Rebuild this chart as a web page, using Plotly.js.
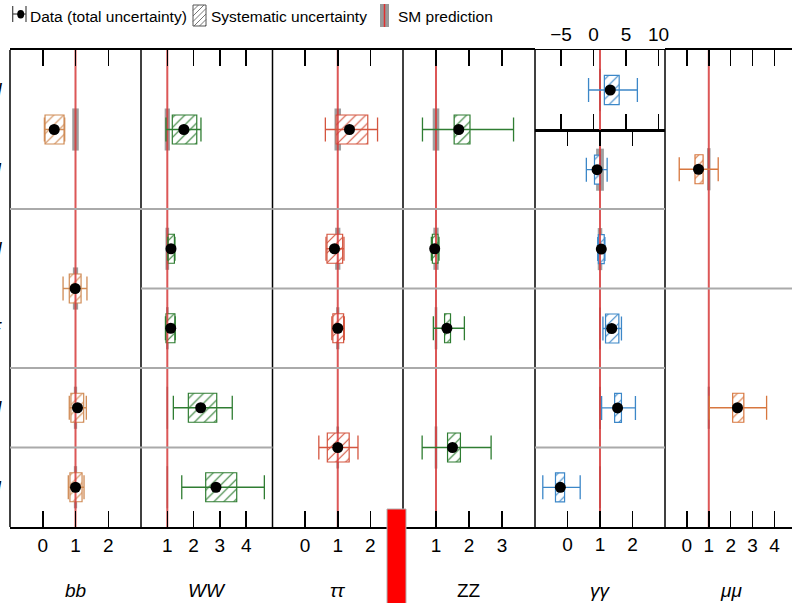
<!DOCTYPE html>
<html><head><meta charset="utf-8">
<script src="https://cdn.plot.ly/plotly-3.0.1.min.js"></script>
<style>html,body{margin:0;padding:0;background:#fff;overflow:hidden}#chart{width:792px;height:603px}</style>
</head><body><div id="chart"></div>
<script>
// ---------------- data ----------------
const rowLabels = ["tH", "ttH", "ggH", "VBF", "WH", "ZH"];
const channelNames = ["bb", "WW", "ττ", "ZZ", "γγ", "μμ"];
const channelTitles = ["<i>bb</i>", "<i>WW</i>", "<i>ττ</i>", "ZZ", "<i>γγ</i>", "<i>μμ</i>"];
const channelColors = ["#d08b55", "#2f7d32", "#d4553f", "#2f7d32", "#3c87c8", "#d7773f"];
const smPrediction = 1;

const bbBlocks = [["tH","ttH"], ["ggH","VBF"], ["WH"], ["ZH"]];
const bbMu     = [0.35, 0.99, 1.06, 1.00];
const bbTotLo  = [0.05, 0.62, 0.81, 0.78];
const bbTotHi  = [0.67, 1.35, 1.33, 1.26];
const bbSysLo  = [0.07, 0.81, 0.86, 0.83];
const bbSysHi  = [0.65, 1.17, 1.25, 1.20];
const bbSmUnc  = [0.10, 0.08, 0.05, 0.05];

const wwBlocks = [["tH","ttH"], ["ggH"], ["VBF"], ["WH"], ["ZH"]];
const wwMu     = [1.63, 1.14, 1.13, 2.27, 2.85];
const wwTotLo  = [0.95, 1.02, 0.93, 1.23, 1.55];
const wwTotHi  = [2.28, 1.29, 1.30, 3.47, 4.69];
const wwSysLo  = [1.19, 1.03, 0.95, 1.80, 2.46];
const wwSysHi  = [2.12, 1.27, 1.29, 2.88, 3.64];
const wwSmUnc  = [0.10, 0.07, 0.05, 0.03, 0.03];

const ttBlocks = [["tH","ttH"], ["ggH"], ["VBF"], ["WH","ZH"]];
const ttMu     = [1.36, 0.90, 1.00, 1.00];
const ttTotLo  = [0.62, 0.64, 0.82, 0.42];
const ttTotHi  = [2.22, 1.19, 1.20, 1.62];
const ttSysLo  = [0.95, 0.67, 0.85, 0.68];
const ttSysHi  = [1.92, 1.15, 1.18, 1.35];
const ttSmUnc  = [0.10, 0.08, 0.05, 0.04];

const zzBlocks = [["tH","ttH"], ["ggH"], ["VBF"], ["WH","ZH"]];
const zzMu     = [1.69, 0.96, 1.33, 1.50];
const zzTotLo  = [0.59, 0.86, 0.92, 0.58];
const zzTotHi  = [3.35, 1.09, 1.86, 2.67];
const zzSysLo  = [1.55, 0.89, 1.26, 1.35];
const zzSysHi  = [2.03, 1.06, 1.44, 1.74];
const zzSmUnc  = [0.10, 0.08, 0.04, 0.04];

const ggBlocks = [["tH"], ["ttH"], ["ggH"], ["VBF"], ["WH"], ["ZH"]];
const ggMu     = [2.58, 0.91, 1.04, 1.36, 1.54, -0.22];
const ggTotLo  = [-0.76, 0.58, 0.93, 1.09, 1.05, -0.76];
const ggTotHi  = [6.75, 1.22, 1.15, 1.66, 2.09, 0.39];
const ggSysLo  = [1.67, 0.83, 0.95, 1.17, 1.45, -0.37];
const ggSysHi  = [3.95, 1.01, 1.13, 1.58, 1.66, -0.09];
const ggSmUnc  = [0.15, 0.12, 0.07, 0.03, 0.03, 0.03];

const mmBlocks = [["tH","ttH","ggH"], ["VBF","WH","ZH"]];
const mmMu     = [0.53, 2.31];
const mmTotLo  = [-0.35, 1.02];
const mmTotHi  = [1.43, 3.64];
const mmSysLo  = [0.37, 2.09];
const mmSysHi  = [0.74, 2.60];
const mmSmUnc  = [0.08, 0.05];

const bbTicks = [0, 1, 2];
const wwTicks = [1, 2, 3, 4];
const ttTicks = [0, 1, 2];
const zzTicks = [1, 2, 3];
const ggTicks = [0, 1, 2];
const ggTopTicks = [-5, 0, 5, 10];
const mmTicks = [0, 1, 2, 3, 4];

const legendLabels = ["Data (total uncertainty)", "Systematic uncertainty", "SM prediction"];

// ---------------- layout helpers ----------------
const W = 792, H = 603, ML = 10, MR = 0, MT = 50, MB = 76;
const PW = W - ML - MR, PH = H - MT - MB;
const px2x = X => (X - ML) / PW;
const px2y = Y => (H - MB - Y) / PH;
const FONT = "'Liberation Sans', Arial, Helvetica, sans-serif";
const colEdges = [10, 141, 272.5, 403, 535, 665, 792];
const ggSplitPx = 130;

const channels = [
  {blocks: bbBlocks, mu: bbMu, lo: bbTotLo, hi: bbTotHi, slo: bbSysLo, shi: bbSysHi, sm: bbSmUnc},
  {blocks: wwBlocks, mu: wwMu, lo: wwTotLo, hi: wwTotHi, slo: wwSysLo, shi: wwSysHi, sm: wwSmUnc},
  {blocks: ttBlocks, mu: ttMu, lo: ttTotLo, hi: ttTotHi, slo: ttSysLo, shi: ttSysHi, sm: ttSmUnc},
  {blocks: zzBlocks, mu: zzMu, lo: zzTotLo, hi: zzTotHi, slo: zzSysLo, shi: zzSysHi, sm: zzSmUnc},
  {blocks: ggBlocks, mu: ggMu, lo: ggTotLo, hi: ggTotHi, slo: ggSysLo, shi: ggSysHi, sm: ggSmUnc},
  {blocks: mmBlocks, mu: mmMu, lo: mmTotLo, hi: mmTotHi, slo: mmSysLo, shi: mmSysHi, sm: mmSmUnc}
];

const NR = rowLabels.length;
const rIdx = r => rowLabels.indexOf(r);
const blockCenter = b => NR - (rIdx(b[0]) + rIdx(b[b.length - 1]) + 1) / 2;
const mainX = ["x", "x2", "x3", "x4", "x5", "x7"];
function axesFor(c, block) {
  if (c === 4) return block.includes("tH") ? {x: "x6", y: "y3"} : {x: "x5", y: "y2"};
  return {x: mainX[c], y: "y"};
}

// ---------------- traces ----------------
const smBars = [], sysBoxes = [], smLines = [], points = [];
channels.forEach((ch, c) => {
  const col = channelColors[c];
  ch.blocks.forEach((b, k) => {
    const ax = axesFor(c, b);
    const yc = blockCenter(b);
    smBars.push({type: "bar", orientation: "h", xaxis: ax.x, yaxis: ax.y,
      y: [yc], x: [2 * ch.sm[k]], base: [smPrediction - ch.sm[k]], width: 0.53,
      marker: {color: "rgba(135,135,135,0.8)", line: {width: 0}}, hoverinfo: "skip", showlegend: false});
    sysBoxes.push({type: "bar", orientation: "h", xaxis: ax.x, yaxis: ax.y,
      y: [yc], x: [ch.shi[k] - ch.slo[k]], base: [ch.slo[k]], width: 0.365,
      marker: {color: "white", line: {color: col, width: 1.2},
        pattern: {shape: "/", fgcolor: col, bgcolor: "white", size: 7, solidity: 0.16, fillmode: "replace"}},
      hoverinfo: "skip", showlegend: false});
    points.push({type: "scatter", mode: "markers", xaxis: ax.x, yaxis: ax.y,
      x: [ch.mu[k]], y: [yc],
      error_x: {type: "data", symmetric: false, array: [ch.hi[k] - ch.mu[k]], arrayminus: [ch.mu[k] - ch.lo[k]],
        color: col, thickness: 1.3, width: 12},
      marker: {color: "black", size: 11}, hoverinfo: "skip", showlegend: false, cliponaxis: false});
  });
});
[["x", "y", 0, 6], ["x2", "y", 0, 6], ["x3", "y", 0, 6], ["x4", "y", 0, 6], ["x5", "y2", 0, 5], ["x6", "y3", 5, 6], ["x7", "y", 0, 6]]
  .forEach(([xa, ya, y0, y1]) => smLines.push({type: "scatter", mode: "lines", xaxis: xa, yaxis: ya,
    x: [smPrediction, smPrediction], y: [y0, y1], line: {color: "rgba(214,58,58,0.85)", width: 2},
    hoverinfo: "skip", showlegend: false}));

const data = [...smBars, ...sysBoxes, ...smLines, ...points];

// ---------------- axes ----------------
function xAxis(i0, i1, range, ticks, anchor, extra) {
  return Object.assign({
    domain: [px2x(colEdges[i0]), px2x(colEdges[i1])], range: range, anchor: anchor,
    showline: true, linecolor: "black", linewidth: 2, mirror: "ticks",
    ticks: "inside", ticklen: 16, tickwidth: 1.5, tickcolor: "black",
    tickmode: "array", tickvals: ticks, ticktext: ticks.map(v => v < 0 ? "\u2212" + Math.abs(v) : String(v)),
    tickfont: {family: FONT, size: 19, color: "black"},
    showgrid: false, zeroline: false, fixedrange: true
  }, extra || {});
}

const layout = {
  width: W, height: H, margin: {l: ML, r: MR, t: MT, b: MB, pad: 0},
  paper_bgcolor: "white", plot_bgcolor: "white", showlegend: false, barmode: "overlay",
  font: {family: FONT, color: "black"},
  xaxis:  xAxis(0, 1, [-1, 3], bbTicks, "y"),
  xaxis2: xAxis(1, 2, [0, 5], wwTicks, "y"),
  xaxis3: xAxis(2, 3, [-1, 3], ttTicks, "y"),
  xaxis4: xAxis(3, 4, [0, 4], zzTicks, "y"),
  xaxis5: xAxis(4, 5, [-1, 3], ggTicks, "y2", {linewidth: 1.5}),
  xaxis6: xAxis(4, 5, [-9, 11], ggTopTicks, "y3", {side: "top", linewidth: 1.5}),
  xaxis7: xAxis(5, 6, [-1, 4.8], mmTicks, "y"),
  yaxis:  {domain: [0, 1], range: [0, NR], visible: false, fixedrange: true, anchor: "x"},
  yaxis2: {domain: [0, px2y(ggSplitPx)], range: [0, NR - 1], visible: false, fixedrange: true, anchor: "x5"},
  yaxis3: {domain: [px2y(ggSplitPx), 1], range: [NR - 1, NR], visible: false, fixedrange: true, anchor: "x6"},
  shapes: [], annotations: []
};

// vertical column separators
colEdges.slice(0, 6).forEach(X => layout.shapes.push({type: "line", xref: "paper", yref: "paper",
  x0: px2x(X), x1: px2x(X), y0: 0, y1: 1, line: {color: "black", width: 1.5}}));

// horizontal block separators
channels.forEach((ch, c) => {
  ch.blocks.slice(1).forEach(b => {
    const yb = NR - rIdx(b[0]);
    if (c === 4 && yb === NR - 1) return; // drawn by axes
    const xr = (c === 4 ? "x5" : mainX[c]) + " domain";
    layout.shapes.push({type: "line", xref: xr, yref: "y", x0: 0, x1: 1, y0: yb, y1: yb,
      line: {color: "#aaaaaa", width: 2}});
  });
});

// channel titles
channelTitles.forEach((t, c) => layout.annotations.push({xref: "paper", yref: "paper",
  x: px2x((colEdges[c] + (c === 5 ? 797 : colEdges[c + 1])) / 2), y: px2y(590),
  text: t, showarrow: false, xanchor: "center", yanchor: "middle",
  font: {family: FONT, size: 19, color: "black"}}));

// row labels (cut off at left edge, as in the reference)
rowLabels.forEach((r, i) => layout.annotations.push({xref: "paper", yref: "y",
  x: px2x(4), y: NR - i - 0.5, text: "<i>" + r + "</i>", showarrow: false,
  xanchor: "right", yanchor: "middle", font: {family: FONT, size: 19, color: "black"}}));

// legend
const legY = 16;
[[28, legendLabels[0]], [209, legendLabels[1]], [396, legendLabels[2]]].forEach(([X, t]) =>
  layout.annotations.push({xref: "paper", yref: "paper", x: px2x(X), y: px2y(legY), text: t,
    showarrow: false, xanchor: "left", yanchor: "middle", font: {family: FONT, size: 15.5, color: "black"}}));
const L = (x0, y0, x1, y1, color, w) => layout.shapes.push({type: "line", xref: "paper", yref: "paper",
  x0: px2x(x0), y0: px2y(y0), x1: px2x(x1), y1: px2y(y1), line: {color: color, width: w}});
// data icon
L(12.7, 14, 26, 14, "#444", 1.2); L(12.7, 6, 12.7, 22, "#444", 1.2); L(26, 6, 26, 22, "#444", 1.2);
layout.shapes.push({type: "circle", xref: "paper", yref: "paper", x0: px2x(17.2), x1: px2x(24.2),
  y0: px2y(10), y1: px2y(18.5), fillcolor: "black", line: {width: 0}});
// hatched icon
(function () {
  const x0 = 193, x1 = 206, y0 = 5, y1 = 26, step = 5.5;
  let p = "";
  for (let cc = x0 + y0 + step; cc < x1 + y1; cc += step) {
    const xa = Math.max(x0, cc - y1), xb = Math.min(x1, cc - y0);
    if (xb <= xa) continue;
    p += "M" + px2x(xa) + "," + px2y(cc - xa) + "L" + px2x(xb) + "," + px2y(cc - xb);
  }
  layout.shapes.push({type: "path", xref: "paper", yref: "paper", path: p, line: {color: "#777", width: 1}});
  layout.shapes.push({type: "rect", xref: "paper", yref: "paper", x0: px2x(x0), x1: px2x(x1),
    y0: px2y(y1), y1: px2y(y0), line: {color: "#555", width: 1}});
})();
// SM icon
layout.shapes.push({type: "rect", xref: "paper", yref: "paper", x0: px2x(380), x1: px2x(389),
  y0: px2y(27), y1: px2y(4), fillcolor: "rgba(135,135,135,0.85)", line: {width: 0}});
L(384.5, 4, 384.5, 27, "#e03030", 1.5);

// red marker block at the bottom
layout.shapes.push({type: "rect", xref: "paper", yref: "paper", x0: px2x(387), x1: px2x(406),
  y0: px2y(604), y1: px2y(509), fillcolor: "#ff0000", line: {color: "#b0b0b0", width: 1}, layer: "above"});

Plotly.newPlot("chart", data, layout, {staticPlot: true, displayModeBar: false});
</script>
</body></html>
